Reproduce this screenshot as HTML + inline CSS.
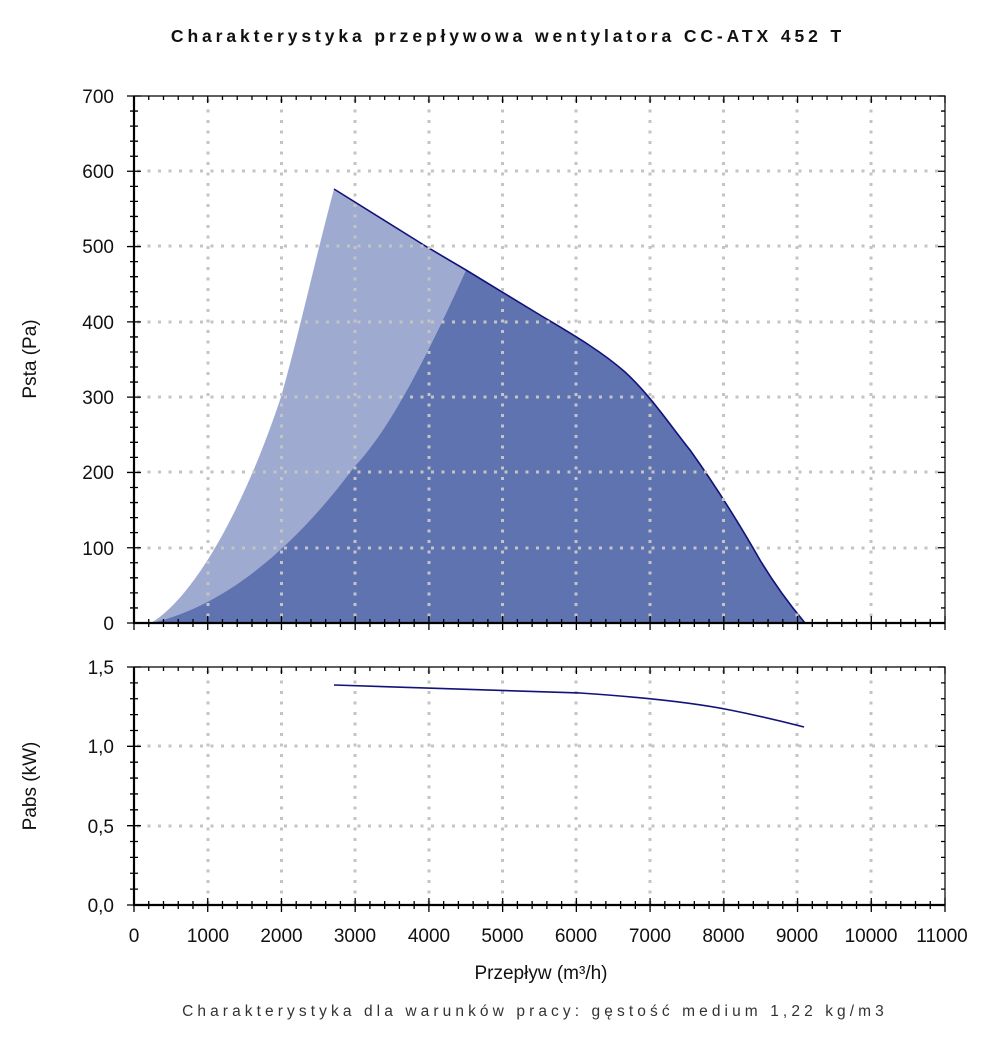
<!DOCTYPE html>
<html><head><meta charset="utf-8"><style>
body{margin:0;background:#fff;}
svg{display:block;font-family:"Liberation Sans","DejaVu Sans",sans-serif;}
</style></head><body>
<svg width="1000" height="1062" viewBox="0 0 1000 1062" xmlns="http://www.w3.org/2000/svg">
<text x="508" y="42" text-anchor="middle" font-size="17.5" font-weight="bold" letter-spacing="3.9" fill="#111">Charakterystyka przepływowa wentylatora CC-ATX 452 T</text>

<path d="M151,623 C190,600 240,520 281,397 C300,330 315,260 334,189 L427,247 L466,270 C430,350 390,430 354,467 C300,540 230,605 151,623 Z" fill="#9eaad0"/>
<path d="M151,623 C230,605 300,540 354,467 C390,430 430,350 466,270 L540,315 C570,333 600,350 625,372 C650,395 670,425 690,450 C715,485 740,525 760,560 C775,585 790,605 805,623 Z" fill="#5f73b1"/>
<path d="M334,189 L427,247 L466,270 L540,315 C570,333 600,350 625,372 C650,395 670,425 690,450 C715,485 740,525 760,560 C775,585 790,605 805,623" fill="none" stroke="#12127a" stroke-width="1.6"/>

<g stroke="#c4c4c4" stroke-width="3" stroke-dasharray="3,7.5" fill="none">
<path d="M208,99V623M281.5,99V623M355,99V623M429,99V623M502.5,99V623M576,99V623M650,99V623M723.5,99V623M797,99V623M871,99V623"/>
<path d="M137,171H945M137,246H945M137,322H945M137,397H945M137,472H945M137,548H945"/>
<path d="M208,670V905M281.5,670V905M355,670V905M429,670V905M502.5,670V905M576,670V905M650,670V905M723.5,670V905M797,670V905M871,670V905"/>
<path d="M137,746H945M137,826H945"/>
</g>

<path d="M334,685 C420,688 500,690 580,693 C640,697 690,702 730,710 C760,716 785,722 804,727" fill="none" stroke="#12127a" stroke-width="1.6"/>

<g stroke="#000" fill="none">
<path d="M134,96H945V623" stroke-width="1.2"/>
<path d="M134,96V623H945" stroke-width="2.2"/>
<path d="M134,667H945V905" stroke-width="1.2"/>
<path d="M134,667V905H945" stroke-width="2.2"/>
</g>
<g id="ticks" stroke="#000" stroke-width="1.3"></g>

<g font-size="19" fill="#111" text-anchor="end">
<text x="114" y="103">700</text><text x="114" y="178">600</text><text x="114" y="253">500</text><text x="114" y="329">400</text><text x="114" y="404">300</text><text x="114" y="479">200</text><text x="114" y="555">100</text><text x="114" y="630">0</text>
<text x="114" y="674">1,5</text><text x="114" y="753">1,0</text><text x="114" y="833">0,5</text><text x="114" y="912">0,0</text>
</g>
<g font-size="19" fill="#111" text-anchor="middle">
<text x="134" y="942">0</text><text x="208" y="942">1000</text><text x="281.5" y="942">2000</text><text x="355" y="942">3000</text><text x="429" y="942">4000</text><text x="502.5" y="942">5000</text><text x="576" y="942">6000</text><text x="650" y="942">7000</text><text x="723.5" y="942">8000</text><text x="797" y="942">9000</text><text x="871" y="942">10000</text><text x="942" y="942">11000</text>
<text x="541" y="979">Przepływ (m³/h)</text>
<text transform="translate(36,359) rotate(-90)">Psta (Pa)</text>
<text transform="translate(36,786) rotate(-90)">Pabs (kW)</text>
</g>
<text x="535" y="1016" text-anchor="middle" font-size="15.5" letter-spacing="4.1" fill="#333">Charakterystyka dla warunków pracy: gęstość medium 1,22 kg/m3</text>
<script>
var g=document.getElementById('ticks'),d='';
for(var i=0;i<=55;i++){var x=134+i*811/55;var L=(i%5==0)?7:4;
d+='M'+x+','+(623-L)+'V'+(623+L);d+='M'+x+',96V'+(96+L);
d+='M'+x+','+(905-L)+'V'+(905+L);d+='M'+x+',667V'+(667+L);}
for(var j=0;j<=35;j++){var y=623-j*527/35;var L=(j%5==0)?7:4;
d+='M'+(134-L)+','+y+'H'+(134+L);d+='M'+(945-L)+','+y+'H945';}
for(var k=0;k<=15;k++){var y=905-k*238/15;var L=(k%5==0)?7:4;
d+='M'+(134-L)+','+y+'H'+(134+L);d+='M'+(945-L)+','+y+'H945';}
var p=document.createElementNS('http://www.w3.org/2000/svg','path');p.setAttribute('d',d);g.appendChild(p);
</script>
</svg>
</body></html>
